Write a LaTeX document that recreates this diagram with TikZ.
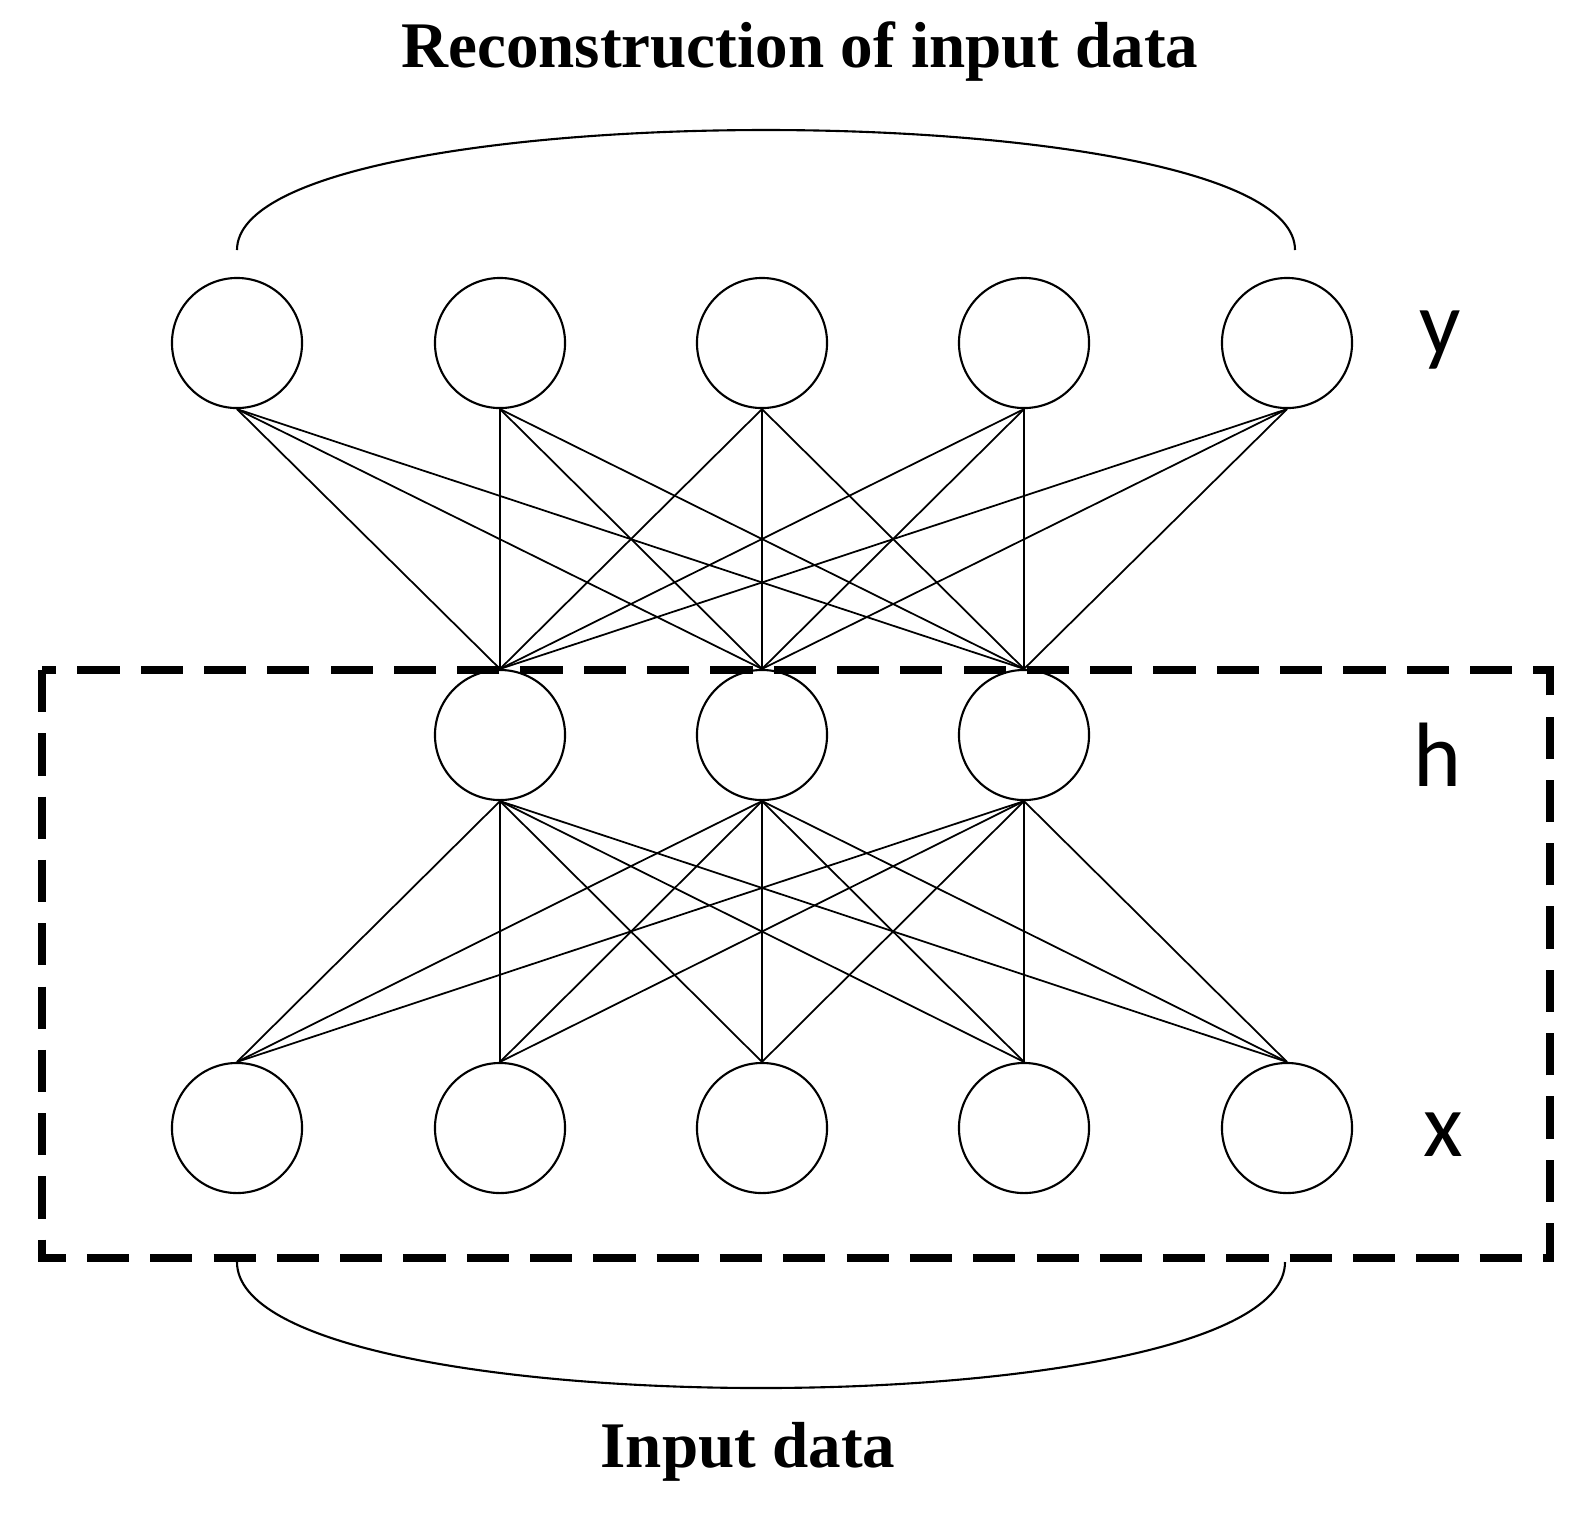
\documentclass[tikz,border=0pt]{standalone}
\usepackage{fontspec}
\setmainfont{Liberation Serif}
\newfontfamily\lblfont{Carlito}
\begin{document}
\begin{tikzpicture}[x=0.01cm,y=-0.01cm,
  neuron/.style={circle,draw,line width=0.6pt,minimum size=1.3cm,inner sep=0pt},
  conn/.style={line width=0.5pt},
  lbl/.style={font=\lblfont\fontsize{26}{30}\selectfont},
  ttl/.style={font=\bfseries\fontsize{18.5}{22}\selectfont}]
\useasboundingbox (0,0) rectangle (1594,1532);
\foreach \i/\x in {1/237,2/500,3/762,4/1024,5/1287}{
  \node[neuron] (y\i) at (\x,343) {};
  \node[neuron] (x\i) at (\x,1128) {};
}
\foreach \j/\x in {1/500,2/762,3/1024}{
  \node[neuron] (h\j) at (\x,735) {};
}
\foreach \i in {1,...,5}{
  \foreach \j in {1,2,3}{
    \draw[conn] (y\i.south) -- (h\j.north);
    \draw[conn] (h\j.south) -- (x\i.north);
  }
}
\draw[dashed,line width=2.2pt,dash pattern=on 12pt off 6pt] (42,670) rectangle (1550,1258);
\node[lbl] (ly) at (1440,340) {y};
\node[lbl] (lh) at (1437,755) {h};
\node[lbl] (lx) at (1443,1135) {x};
\node[ttl] (t1) at (800,52) {Reconstruction of input data};
\node[ttl] (t2) at (748,1452) {Input data};
\coordinate (a1) at (237,250); \coordinate (a2) at (1295,250);
\draw[line width=0.6pt] (a1) .. controls (237,90) and (1295,90) .. (a2);
\coordinate (b1) at (237,1262); \coordinate (b2) at (1285,1262);
\draw[line width=0.6pt] (b1) .. controls (237,1430) and (1285,1430) .. (b2);
\end{tikzpicture}
\end{document}
